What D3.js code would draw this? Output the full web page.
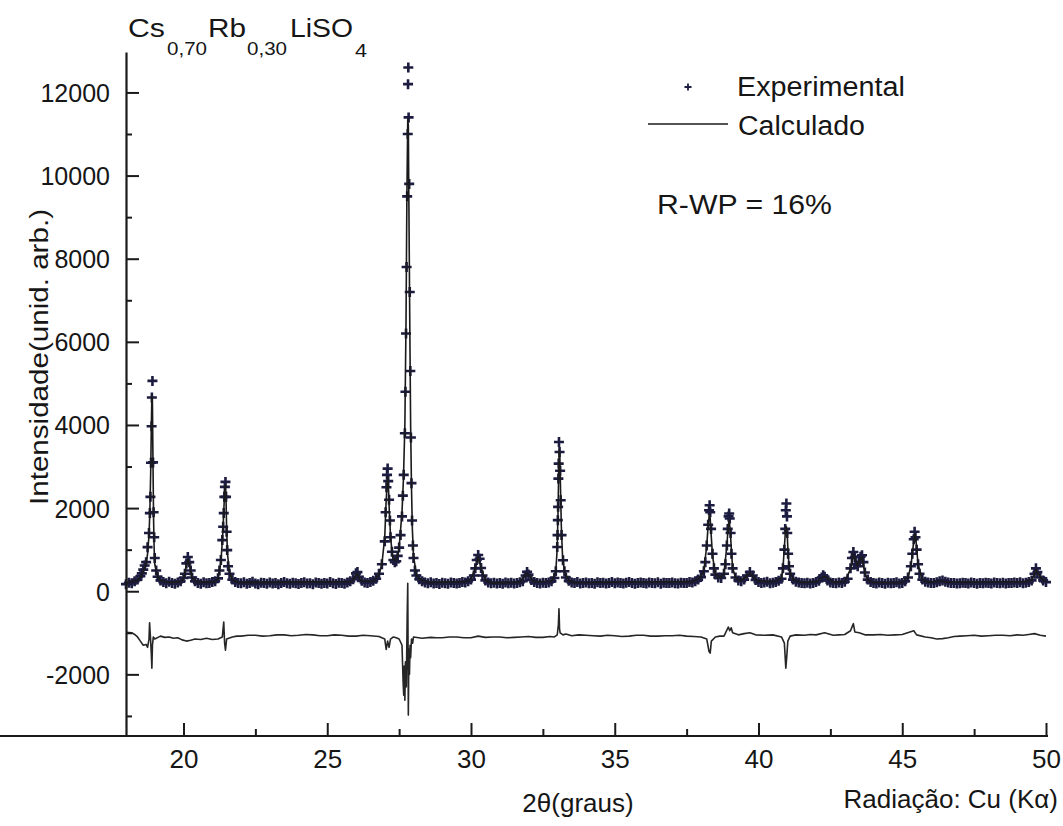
<!DOCTYPE html>
<html>
<head>
<meta charset="utf-8">
<script src="https://cdn.jsdelivr.net/npm/d3@7"></script>
<style>
  body { margin: 0; background: #fff; }
  svg { display: block; }
  text { font-family: "Liberation Sans", Arial, Helvetica, sans-serif; fill: #161616; }
</style>
</head>
<body>
<svg id="chart" width="1063" height="826"></svg>
<script>
// Ticks
const xTicksMajor = [20, 25, 30, 35, 40, 45, 50];
const xTicksMinor = [22.5, 27.5, 32.5, 37.5, 42.5, 47.5];
const yTicksMajor = [-2000, 0, 2000, 4000, 6000, 8000, 10000, 12000];
const yTicksMinor = [-3000, -1000, 1000, 3000, 5000, 7000, 9000, 11000];

// Observed intensities [2θ, counts]
const observed = [
  [18.0,170],[18.1,205],[18.2,190],[18.3,240],[18.4,280],[18.5,360],[18.55,430],[18.6,520],[18.65,620],[18.7,700],
  [18.75,1060],[18.8,1400],[18.83,1880],[18.85,2270],[18.87,3090],[18.89,3970],[18.9,4660],[18.92,5060],[18.94,3100],
  [18.96,1900],[18.98,1300],[19.0,800],[19.05,500],[19.1,350],[19.2,260],[19.3,220],[19.4,190],[19.5,230],[19.6,200],
  [19.7,180],[19.8,210],[19.9,240],[20.0,320],[20.05,420],[20.1,670],[20.15,825],[20.2,700],[20.25,500],[20.3,330],
  [20.4,240],[20.5,200],[20.6,180],[20.7,215],[20.8,190],[20.9,200],[21.0,220],[21.1,240],[21.2,310],[21.25,500],
  [21.3,750],[21.35,1230],[21.38,1550],[21.4,1880],[21.42,2270],[21.44,2510],[21.46,2630],[21.48,2270],[21.5,1430],
  [21.52,990],[21.55,600],[21.6,420],[21.7,280],[21.8,220],[21.9,200],
  [22.0,190],[22.1,215],[22.2,180],[22.3,200],[22.4,230],[22.5,185],[22.6,170],[22.7,205],[22.8,195],[22.9,180],
  [23.0,210],[23.1,185],[23.2,200],[23.3,170],[23.4,195],[23.5,225],[23.6,190],[23.7,180],[23.8,205],[23.9,190],
  [24.0,175],[24.1,200],[24.2,215],[24.3,185],[24.4,190],[24.5,170],[24.6,210],[24.7,195],[24.8,180],[24.9,200],
  [25.0,185],[25.1,220],[25.2,190],[25.3,175],[25.4,205],[25.5,195],[25.6,180],[25.7,210],[25.8,240],[25.9,290],
  [26.0,430],[26.05,460],[26.1,350],[26.2,250],[26.3,210],[26.4,200],[26.5,220],[26.6,250],[26.7,300],[26.8,420],[26.9,650],
  [27.0,1200],[27.03,1900],[27.06,2500],[27.08,2800],[27.1,2950],[27.12,2650],[27.15,2200],[27.18,1700],[27.2,1300],
  [27.25,950],[27.3,750],[27.35,700],[27.4,720],[27.45,850],[27.5,1050],[27.55,1350],[27.6,1800],[27.63,2300],
  [27.66,2800],[27.7,3800],[27.72,4800],[27.74,6200],[27.76,7800],[27.78,9500],[27.8,11000],[27.81,12200],[27.82,12600],
  [27.83,11400],[27.85,9800],[27.87,7200],[27.89,5300],[27.91,3700],[27.93,2600],[27.95,1700],[27.98,1100],
  [28.0,800],[28.05,500],[28.1,380],[28.2,290],[28.3,240],[28.4,210],[28.5,190],[28.6,215],[28.7,185],[28.8,200],[28.9,175],
  [29.0,205],[29.1,190],[29.2,180],[29.3,210],[29.4,195],[29.5,185],[29.6,200],[29.7,220],[29.8,210],[29.9,240],
  [30.0,280],[30.1,380],[30.15,550],[30.2,750],[30.25,870],[30.3,780],[30.35,560],[30.4,380],[30.5,260],[30.6,210],
  [30.7,190],[30.8,205],[30.9,185],
  [31.0,200],[31.1,180],[31.2,210],[31.3,190],[31.4,205],[31.5,185],[31.6,200],[31.7,215],[31.8,240],[31.9,380],[31.95,465],
  [32.0,400],[32.1,270],[32.2,220],[32.3,200],[32.4,185],[32.5,205],[32.6,195],[32.7,210],[32.8,240],[32.9,320],[32.95,480],
  [33.0,1065],[33.01,1350],[33.02,1710],[33.03,2030],[33.04,2710],[33.05,3070],[33.06,3590],[33.08,3350],[33.1,2900],
  [33.12,2190],[33.15,1350],[33.2,745],[33.25,480],[33.3,330],[33.4,250],[33.5,210],[33.6,195],[33.7,220],[33.8,185],[33.9,200],
  [34.0,210],[34.1,190],[34.2,200],[34.3,180],[34.4,215],[34.5,195],[34.6,205],[34.7,185],[34.8,200],[34.9,220],
  [35.0,190],[35.1,210],[35.2,200],[35.3,185],[35.4,205],[35.5,220],[35.6,195],[35.7,180],[35.8,200],[35.9,210],
  [36.0,195],[36.1,185],[36.2,210],[36.3,200],[36.4,190],[36.5,215],[36.6,180],[36.7,205],[36.8,195],[36.9,200],
  [37.0,210],[37.1,190],[37.2,185],[37.3,205],[37.4,200],[37.5,195],[37.6,220],[37.7,210],[37.8,240],[37.9,280],
  [38.0,340],[38.1,480],[38.15,700],[38.2,1100],[38.25,1600],[38.28,1950],[38.3,2070],[38.32,1900],[38.35,1500],
  [38.4,900],[38.45,550],[38.5,400],[38.6,330],[38.7,320],[38.8,420],[38.85,650],[38.9,1100],[38.93,1500],[38.96,1800],[38.98,1870],
  [39.0,1750],[39.03,1400],[39.06,900],[39.1,550],[39.2,330],[39.3,260],[39.4,240],[39.5,280],[39.6,380],[39.7,460],[39.8,380],[39.9,270],
  [40.0,220],[40.1,200],[40.2,210],[40.3,230],[40.4,190],[40.5,205],[40.6,220],[40.7,250],[40.8,300],[40.85,550],
  [40.9,1000],[40.93,1500],[40.95,1950],[40.97,2110],[40.99,1800],
  [41.0,1400],[41.03,900],[41.06,600],[41.1,420],[41.2,280],[41.3,230],[41.4,210],[41.5,200],[41.6,190],[41.7,205],[41.8,185],[41.9,200],
  [42.0,220],[42.1,250],[42.2,330],[42.25,385],[42.3,350],[42.4,260],[42.5,210],[42.6,200],[42.7,190],[42.8,210],[42.9,200],
  [43.0,230],[43.1,300],[43.2,550],[43.25,800],[43.3,945],[43.35,820],[43.4,650],[43.45,600],[43.5,700],[43.55,830],
  [43.6,865],[43.65,700],[43.7,450],[43.8,280],[43.9,220],
  [44.0,200],[44.1,185],[44.2,210],[44.3,195],[44.4,180],[44.5,205],[44.6,190],[44.7,200],[44.8,215],[44.9,185],
  [45.0,200],[45.1,240],[45.2,330],[45.3,600],[45.35,900],[45.4,1250],[45.43,1430],[45.46,1300],[45.5,1000],[45.55,650],
  [45.6,420],[45.7,280],[45.8,230],[45.9,210],
  [46.0,200],[46.1,195],[46.2,215],[46.3,240],[46.4,260],[46.5,230],[46.6,210],[46.7,195],[46.8,200],[46.9,185],
  [47.0,190],[47.1,205],[47.2,200],[47.3,185],[47.4,210],[47.5,195],[47.6,180],[47.7,200],[47.8,190],[47.9,205],
  [48.0,195],[48.1,185],[48.2,210],[48.3,200],[48.4,190],[48.5,205],[48.6,185],[48.7,200],[48.8,195],[48.9,210],
  [49.0,200],[49.1,215],[49.2,190],[49.3,205],[49.4,220],[49.5,260],[49.6,420],[49.65,550],[49.7,460],[49.8,330],
  [49.9,260],[50.0,220]
];

// Calculated profile [2θ, counts]
const calculated = [
  [18.0,200],[18.4,260],[18.5,330],[18.6,480],[18.7,650],[18.75,900],[18.8,1350],[18.83,1900],[18.86,2900],[18.88,3900],
  [18.9,4700],[18.92,4500],[18.94,3000],[18.96,1700],[18.98,1000],[19.0,650],[19.1,350],[19.2,260],[19.5,210],[19.9,230],
  [20.0,300],[20.1,620],[20.15,760],[20.2,650],[20.3,320],[20.5,210],[21.1,230],[21.2,300],[21.3,700],[21.36,1300],
  [21.4,1900],[21.43,2400],[21.46,2550],[21.48,2200],[21.5,1500],[21.53,900],[21.6,450],[21.7,270],[21.9,210],
  [25.8,230],[25.9,280],[26.0,400],[26.05,430],[26.1,330],[26.2,240],[26.6,240],[26.8,400],[26.9,650],[27.0,1300],
  [27.05,2200],[27.1,2750],[27.13,2500],[27.16,1900],[27.2,1350],[27.25,950],[27.3,760],[27.4,740],[27.5,1050],
  [27.6,1900],[27.65,2700],[27.7,4000],[27.74,6500],[27.77,9500],[27.8,11350],[27.82,11200],[27.84,9300],[27.87,6500],
  [27.9,4000],[27.93,2500],[27.96,1500],[28.0,850],[28.1,400],[28.2,290],[28.5,210],[29.8,230],[30.0,290],[30.15,560],
  [30.25,820],[30.35,560],[30.5,270],[30.7,200],[31.7,220],[31.9,390],[31.95,430],[32.05,350],[32.2,230],[32.8,240],
  [32.95,480],[33.0,1050],[33.03,2000],[33.05,2900],[33.07,3400],[33.09,3250],[33.11,2600],[33.14,1600],[33.18,900],
  [33.25,470],[33.4,260],[33.6,210],[37.7,230],[37.9,300],[38.0,350],[38.1,500],[38.2,1100],[38.25,1600],[38.29,1850],
  [38.32,1750],[38.35,1400],[38.4,850],[38.5,420],[38.6,340],[38.7,330],[38.8,430],[38.9,1100],[38.95,1600],[38.98,1700],
  [39.02,1450],[39.06,950],[39.1,560],[39.2,330],[39.4,250],[39.6,370],[39.7,430],[39.8,370],[39.95,250],[40.5,230],
  [40.7,280],[40.8,320],[40.85,550],[40.9,1050],[40.94,1500],[40.97,1550],[41.0,1350],[41.03,900],[41.08,500],[41.2,280],
  [41.5,210],[42.0,230],[42.2,320],[42.3,360],[42.4,310],[42.6,220],[43.0,230],[43.2,530],[43.3,900],[43.35,800],
  [43.45,620],[43.55,780],[43.6,820],[43.7,430],[43.8,270],[44.0,210],[45.0,210],[45.2,330],[45.3,600],[45.4,1200],
  [45.44,1380],[45.48,1200],[45.55,650],[45.7,280],[45.9,215],[46.3,250],[46.6,215],[49.3,230],[49.5,280],[49.6,400],
  [49.65,520],[49.7,450],[49.85,300],[50.0,230]
];

// Difference curve, drawn offset below the pattern [2θ, counts]
const difference = [
  [18.0,-990],[18.2,-1000],[18.3,-1040],[18.4,-1100],[18.5,-1200],[18.6,-1300],[18.7,-1280],[18.75,-1350],[18.8,-1150],
  [18.82,-760],[18.85,-1100],[18.88,-1500],[18.9,-1850],[18.92,-1300],[18.95,-1100],[19.0,-1150],[19.2,-1080],
  [19.35,-1110],[19.5,-1100],[19.65,-1130],[19.8,-1120],[19.95,-1170],[20.1,-1200],[20.25,-1180],[20.4,-1150],
  [20.6,-1160],[20.8,-1130],[21.0,-1160],[21.2,-1150],[21.35,-1100],[21.4,-740],[21.43,-1250],[21.46,-1420],[21.5,-1150],
  [21.7,-1100],[21.85,-1080],[22.0,-1080],[22.25,-1060],[22.5,-1060],[22.75,-1080],[23.0,-1070],[23.25,-1050],
  [23.5,-1050],[23.75,-1070],[24.0,-1060],[24.25,-1040],[24.5,-1050],[24.75,-1070],[25.0,-1070],[25.25,-1050],
  [25.5,-1060],[25.75,-1080],[26.0,-1080],[26.25,-1060],[26.5,-1070],[26.8,-1090],[27.0,-1150],[27.05,-1400],
  [27.1,-1200],[27.15,-1350],[27.2,-1150],[27.3,-1100],[27.4,-1120],[27.5,-1150],[27.6,-1300],[27.64,-2200],
  [27.66,-2500],[27.68,-1800],[27.7,-2620],[27.72,-1700],[27.75,-2300],[27.78,-600],[27.8,190],[27.81,-1200],
  [27.82,-2980],[27.84,-1400],[27.86,-2000],[27.88,-1300],[27.9,-1600],[27.93,-1150],[27.97,-1250],[28.0,-1100],
  [28.3,-1130],[28.6,-1110],[28.8,-1120],[29.0,-1120],[29.25,-1100],[29.5,-1100],[29.75,-1120],[30.0,-1120],
  [30.25,-1080],[30.5,-1110],[30.75,-1100],[31.0,-1100],[31.25,-1120],[31.5,-1110],[31.75,-1100],[32.0,-1090],
  [32.25,-1110],[32.5,-1110],[32.75,-1090],[32.9,-1100],[33.0,-1050],[33.04,-800],[33.06,-420],[33.08,-900],
  [33.1,-1000],[33.2,-1050],[33.3,-1030],[33.5,-1070],[33.75,-1050],[34.0,-1060],[34.25,-1070],[34.5,-1080],
  [34.75,-1060],[35.0,-1070],[35.25,-1090],[35.5,-1080],[35.75,-1060],[36.0,-1060],[36.25,-1080],[36.5,-1080],
  [36.75,-1070],[37.0,-1070],[37.25,-1060],[37.5,-1080],[37.75,-1090],[38.0,-1100],[38.2,-1150],[38.28,-1450],
  [38.32,-1490],[38.36,-1200],[38.5,-1100],[38.65,-1080],[38.8,-1080],[38.95,-860],[39.0,-950],[39.05,-880],
  [39.1,-1000],[39.3,-1050],[39.5,-1020],[39.7,-1000],[39.9,-1050],[40.2,-1060],[40.5,-1050],[40.8,-1100],
  [40.9,-1250],[40.95,-1850],[40.98,-1600],[41.02,-1200],[41.1,-1080],[41.3,-1050],[41.6,-1060],[41.8,-1040],
  [42.0,-1050],[42.3,-1000],[42.6,-1060],[42.8,-1050],[43.0,-1040],[43.2,-950],[43.3,-780],[43.35,-980],[43.5,-1000],
  [43.7,-1050],[44.0,-1050],[44.25,-1040],[44.5,-1060],[44.75,-1050],[45.0,-1040],[45.4,-950],[45.5,-1050],
  [45.8,-1100],[46.0,-1120],[46.2,-1150],[46.4,-1140],[46.6,-1120],[46.8,-1090],[47.0,-1080],[47.25,-1070],
  [47.5,-1060],[47.75,-1080],[48.0,-1070],[48.25,-1060],[48.5,-1060],[48.75,-1070],[49.0,-1050],[49.2,-1060],
  [49.4,-1040],[49.6,-1020],[49.8,-1060],[50.0,-1080]
];

const svg = d3.select("#chart");
svg.append("rect").attr("width", 1063).attr("height", 826).attr("fill", "#fff");

const x = d3.scaleLinear().domain([18, 50]).range([126, 1046]);
const y = d3.scaleLinear().domain([-3483, 12973]).range([736, 52]);

const ink = "#1a1a1a";
const crossInk = "#1c1c40";

// Observed points as crosses
const crossPath = "M-5,0H5M0,-5V5";
svg.append("g")
  .selectAll("path")
  .data(observed)
  .join("path")
  .attr("d", crossPath)
  .attr("transform", d => `translate(${x(d[0])},${y(d[1])})`)
  .attr("stroke", crossInk)
  .attr("stroke-width", 2.6)
  .attr("fill", "none");

const line = d3.line().x(d => x(d[0])).y(d => y(d[1]));

// Calculated profile
svg.append("path")
  .datum(calculated)
  .attr("d", line)
  .attr("fill", "none")
  .attr("stroke", ink)
  .attr("stroke-width", 1.6)
  .attr("stroke-linejoin", "round");

// Difference curve
svg.append("path")
  .datum(difference)
  .attr("d", line)
  .attr("fill", "none")
  .attr("stroke", "#262626")
  .attr("stroke-width", 1.6)
  .attr("stroke-linejoin", "round");

// Axes
function styleAxis(g) {
  g.select(".domain").attr("stroke", ink).attr("stroke-width", 2.2);
  g.selectAll(".tick line").attr("stroke", ink).attr("stroke-width", 2);
  g.selectAll(".tick text")
    .attr("fill", ink)
    .style("font-family", '"Liberation Sans", Arial, sans-serif');
}

const yAxis = svg.append("g")
  .attr("transform", "translate(126,0)")
  .call(d3.axisLeft(y).tickValues(yTicksMajor).tickSize(-13).tickSizeOuter(0).tickPadding(16)
        .tickFormat(d => String(d)))
  .call(styleAxis);
yAxis.selectAll(".tick text").style("font-size", "25px").attr("dy", "0.36em");

svg.append("g")
  .attr("transform", "translate(126,0)")
  .call(d3.axisLeft(y).tickValues(yTicksMinor).tickSize(-6).tickFormat(""))
  .call(g => g.select(".domain").remove())
  .call(g => g.selectAll(".tick line").attr("stroke", ink).attr("stroke-width", 2));

const xAxis = svg.append("g")
  .attr("transform", "translate(0,736)")
  .call(d3.axisBottom(x).tickValues(xTicksMajor).tickSize(-13).tickSizeOuter(0).tickPadding(14))
  .call(styleAxis);
xAxis.selectAll(".tick text").style("font-size", "26px");
xAxis.select(".domain").attr("d", "M-2,0.5H1048").attr("transform", "translate(0,-0.5)");

svg.append("g")
  .attr("transform", "translate(0,736)")
  .call(d3.axisBottom(x).tickValues(xTicksMinor).tickSize(-7).tickFormat(""))
  .call(g => g.select(".domain").remove())
  .call(g => g.selectAll(".tick line").attr("stroke", ink).attr("stroke-width", 2));

// Axis titles
svg.append("text")
  .attr("transform", "translate(48,357) rotate(-90)")
  .attr("text-anchor", "middle")
  .style("font-size", "26px")
  .attr("textLength", 296)
  .attr("lengthAdjust", "spacingAndGlyphs")
  .text("Intensidade(unid. arb.)");

svg.append("text")
  .attr("x", 578).attr("y", 812)
  .attr("text-anchor", "middle")
  .style("font-size", "26px")
  .text("2θ(graus)");

svg.append("text")
  .attr("x", 1058).attr("y", 808)
  .attr("text-anchor", "end")
  .style("font-size", "26px")
  .text("Radiação: Cu (Kα)");

// Compound formula
const formula = [
  { t: "Cs", x: 128, y: 37, size: 26, w: 37 },
  { t: "0,70", x: 167, y: 55, size: 18, w: 40 },
  { t: "Rb", x: 208, y: 37, size: 26, w: 38 },
  { t: "0,30", x: 247, y: 55, size: 18, w: 40 },
  { t: "LiSO", x: 290, y: 37, size: 26, w: 63 },
  { t: "4", x: 355, y: 57, size: 18, w: 12 }
];
svg.append("g").selectAll("text").data(formula).join("text")
  .attr("x", d => d.x).attr("y", d => d.y)
  .attr("textLength", d => d.w)
  .attr("lengthAdjust", "spacingAndGlyphs")
  .style("font-size", d => d.size + "px")
  .text(d => d.t);

// Legend
svg.append("path")
  .attr("d", "M-3.5,0H3.5M0,-3.5V3.5")
  .attr("transform", "translate(688,87)")
  .attr("stroke", crossInk).attr("stroke-width", 1.8).attr("fill", "none");
svg.append("text").attr("x", 737).attr("y", 96)
  .style("font-size", "27px").attr("textLength", 168).attr("lengthAdjust", "spacingAndGlyphs")
  .text("Experimental");
svg.append("line").attr("x1", 648).attr("x2", 728).attr("y1", 124).attr("y2", 124)
  .attr("stroke", ink).attr("stroke-width", 1.6);
svg.append("text").attr("x", 738).attr("y", 135)
  .style("font-size", "27px").attr("textLength", 127).attr("lengthAdjust", "spacingAndGlyphs")
  .text("Calculado");
svg.append("text").attr("x", 657).attr("y", 214)
  .style("font-size", "27px").attr("textLength", 175).attr("lengthAdjust", "spacingAndGlyphs")
  .text("R-WP =  16%");
</script>
</body>
</html>
